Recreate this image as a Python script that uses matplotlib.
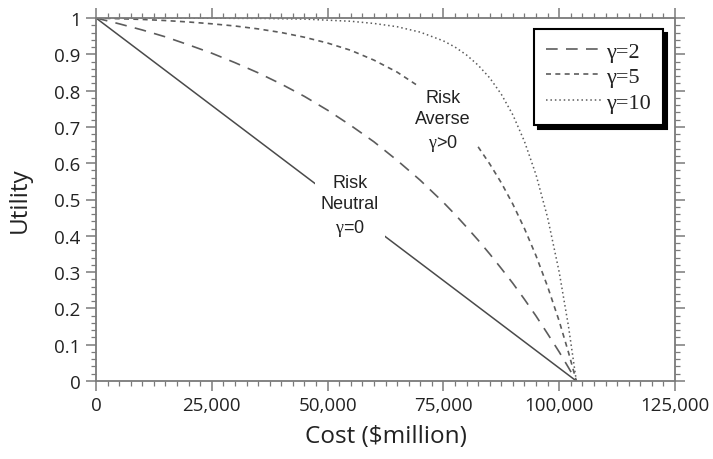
import matplotlib
matplotlib.use('Agg')
import matplotlib.pyplot as plt
from matplotlib.ticker import FixedLocator, MultipleLocator

# ---- data ----
cost = [0, 5000, 10000, 15000, 20000, 25000, 30000, 35000, 40000, 45000, 50000,
        55000, 60000, 65000, 70000, 75000, 77500, 80000, 82500, 85000, 87500,
        90000, 92500, 95000, 97500, 100000, 102000, 103700]
util_g2 = [1.0, 0.984, 0.967, 0.948, 0.926, 0.903, 0.877, 0.849, 0.818, 0.784, 0.746,
           0.704, 0.659, 0.608, 0.553, 0.492, 0.459, 0.424, 0.388, 0.350, 0.310,
           0.269, 0.225, 0.179, 0.130, 0.080, 0.037, 0.0]
util_g5 = [1.0, 0.998, 0.996, 0.993, 0.989, 0.984, 0.978, 0.970, 0.960, 0.947, 0.931,
           0.911, 0.884, 0.851, 0.809, 0.754, 0.722, 0.686, 0.645, 0.598, 0.546,
           0.487, 0.420, 0.345, 0.260, 0.165, 0.079, 0.0]
util_g10 = [1.0, 1.0, 1.0, 1.0, 1.0, 1.0, 0.999, 0.999, 0.998, 0.997, 0.994,
            0.991, 0.985, 0.976, 0.961, 0.937, 0.920, 0.898, 0.870, 0.835, 0.790,
            0.733, 0.660, 0.568, 0.450, 0.300, 0.151, 0.0]
neutral_cost = [0, 103700]
neutral_util = [1.0, 0.0]

series_labels = ['\u03b3=2', '\u03b3=5', '\u03b3=10']

x_ticks = [0, 25000, 50000, 75000, 100000, 125000]
x_tick_labels = ['0', '25,000', '50,000', '75,000', '100,000', '125,000']
y_ticks = [0, 0.1, 0.2, 0.3, 0.4, 0.5, 0.6, 0.7, 0.8, 0.9, 1.0]
y_tick_labels = ['0', '0.1', '0.2', '0.3', '0.4', '0.5', '0.6', '0.7', '0.8', '0.9', '1']

neutral_label = ['Risk', 'Neutral', '$\\mathrm{\\gamma}$=0']
neutral_label_pos = (54836, 0.482)
averse_label = ['Risk', 'Averse', '$\\mathrm{\\gamma}$>0']
averse_label_pos = (74914, 0.716)

# ---- style ----
plt.rcParams['mathtext.fontset'] = 'custom'
plt.rcParams['mathtext.rm'] = 'Liberation Serif'
plt.rcParams['mathtext.it'] = 'Liberation Serif:italic'

W, H = 713, 460
fig = plt.figure(figsize=(W / 100, H / 100), dpi=100)
L, R, T, B = 96, 675, 19, 382
ax = fig.add_axes([L / W, 1 - B / H, (R - L) / W, (B - T) / H])

line_col = '#5c5c5c'
ax.plot(neutral_cost, neutral_util, color='#4a4a4a', lw=1.1, zorder=2)
l2, = ax.plot(cost, util_g2, color=line_col, lw=1.2, dashes=(7, 5), zorder=2,
              label=series_labels[0])
l5, = ax.plot(cost, util_g5, color=line_col, lw=1.2, dashes=(3, 2.6), zorder=2,
              label=series_labels[1])
l10, = ax.plot(cost, util_g10, color=line_col, lw=1.1, dashes=(1, 1.9), zorder=2,
               label=series_labels[2])

ax.set_xlim(0, 125000)
ax.set_ylim(0, 1)

ax.xaxis.set_major_locator(FixedLocator(x_ticks))
ax.set_xticklabels(x_tick_labels)
ax.yaxis.set_major_locator(FixedLocator(y_ticks))
ax.set_yticklabels(y_tick_labels)
ax.xaxis.set_minor_locator(MultipleLocator(2500))
ax.yaxis.set_minor_locator(MultipleLocator(0.02))

spine_col = '#7a7a7a'
for s in ax.spines.values():
    s.set_color(spine_col)
    s.set_linewidth(1.3)

ax.tick_params(which='both', direction='out', top=True, right=True,
               color=spine_col, labelcolor='#222222')
ax.tick_params(which='major', length=7, width=1.1, pad=4)
ax.tick_params(which='minor', length=3.5, width=0.9)
for lab in ax.get_xticklabels() + ax.get_yticklabels():
    lab.set_family('Open Sans')
    lab.set_fontsize(13.5)

ax.set_xlabel('Cost ($million)', family='Open Sans', fontsize=17.5, color='#222222',
              labelpad=7)
ax.set_ylabel('Utility', family='Open Sans', fontsize=17.5, color='#222222',
              labelpad=16)

for lab, pos in ((neutral_label, neutral_label_pos), (averse_label, averse_label_pos)):
    ax.text(pos[0], pos[1], '\n'.join(lab), ha='center', va='center',
            family='Liberation Sans', fontsize=13, color='#222222',
            linespacing=1.3, zorder=5,
            bbox=dict(facecolor='white', edgecolor='none', pad=4))

leg = ax.legend(handles=[l2, l5, l10], loc='upper right',
                bbox_to_anchor=(0.979, 0.970), borderaxespad=0,
                prop={'family': 'Liberation Serif', 'size': 16},
                frameon=True, fancybox=False, framealpha=1,
                edgecolor='black', handlelength=2.5, handletextpad=0.18,
                labelspacing=0.22, borderpad=0.55,
                shadow={'ox': 3, 'oy': -3, 'color': 'black', 'alpha': 1.0})
leg.get_frame().set_linewidth(1.5)
for t in leg.get_texts():
    t.set_color('#222222')

fig.savefig('out.png', dpi=100)
